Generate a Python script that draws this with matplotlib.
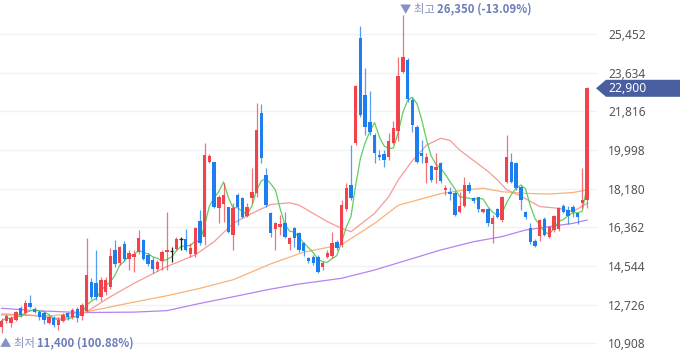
import matplotlib
matplotlib.use("Agg")
import matplotlib.pyplot as plt
from matplotlib.patches import Polygon
import numpy as np
import pandas as pd

# ---------------- data ----------------
opens = [11660, 11980, 11870, 12010, 12560, 12320, 12820, 12530, 12400, 12320,
         11850, 12090, 11770, 11980, 12320, 12135, 12510, 12200, 12450, 13800,
         13750, 13100, 13330, 13550, 15300, 14700, 15600, 14900, 14950, 15200,
         15780, 15050, 14850, 14400, 14800, 15200, 15250, 15350, 15830, 15830,
         15100, 15112, 16678, 15926, 19451, 19451, 17258, 17461, 17305, 16004,
         17884, 17727, 16897, 17728, 17963, 21754, 18824, 17022, 16270, 16364,
         16583, 15580, 16317, 16082, 15612, 14907, 14985, 14985, 14515, 14985,
         15016, 15690, 15533, 17250, 18353, 20312, 25248, 22584, 21331, 20704,
         19764, 19811, 19685, 20312, 20900, 23681, 24230, 22350, 21096, 19842,
         19400, 19248, 19060, 19404, 18120, 18041, 17994, 17101, 17367, 18354,
         17727, 17775, 17101, 17211, 16521, 17211, 16709, 18511, 19451, 19373,
         18244, 17100, 16317, 15737, 15957, 16740, 15894, 16239, 16270, 17367,
         17179, 17336, 17054, 17524, 17649]
highs = [12090, 12290, 12200, 12450, 12670, 12950, 13180, 12600, 12480, 12450,
         12240, 12200, 12130, 12350, 12400, 12560, 12600, 12790, 15880, 14000,
         15300, 14050, 14050, 15380, 15770, 15500, 15700, 15300, 15300, 16240,
         15830, 15150, 14950, 14830, 15300, 17080, 15420, 15900, 15930, 16290,
         15613, 16396, 17180, 20345, 19812, 19451, 17884, 18464, 17305, 17493,
         17963, 17806, 17492, 19138, 22225, 22162, 19138, 17100, 16630, 16943,
         17100, 15925, 16395, 16160, 15690, 14990, 15063, 15063, 14800, 15298,
         16160, 15768, 17650, 18433, 20234, 23054, 25828, 23838, 22788, 20813,
         19999, 19999, 20813, 21378, 24386, 26350, 24308, 22428, 21174, 20469,
         19874, 19295, 19843, 19451, 18354, 18276, 18088, 18041, 18746, 18511,
         17800, 17806, 17250, 17258, 16944, 17258, 17837, 20705, 19843, 19451,
         18307, 17150, 16583, 15800, 16740, 16865, 16427, 16944, 17336, 17461,
         17367, 17414, 17054, 19138, 22950]
lows = [11400, 11850, 11700, 11950, 12170, 12240, 12560, 12320, 12010, 11820,
        11810, 11700, 11540, 11930, 12010, 12040, 11930, 12010, 12400, 13000,
        12950, 12900, 13200, 13450, 14500, 14600, 14800, 14350, 14280, 15100,
        14850, 14550, 14200, 14300, 14360, 14360, 14750, 15300, 15300, 15250,
        14955, 14990, 15535, 15534, 19404, 17258, 16552, 16631, 16083, 15299,
        16474, 16787, 16866, 17492, 17806, 19404, 17336, 15925, 15298, 16004,
        15847, 15298, 15455, 15220, 15000, 14700, 14600, 14233, 14358, 14907,
        14907, 15298, 15455, 17148, 17650, 20234, 21566, 20704, 20704, 19403,
        19529, 19215, 19529, 20281, 20437, 23600, 22271, 20860, 19372, 19403,
        18432, 18512, 18433, 18464, 17885, 17649, 16897, 17022, 17305, 17994,
        17500, 17100, 17050, 16427, 15644, 16787, 16631, 18433, 18464, 18120,
        17179, 16780, 15580, 15424, 15737, 15957, 15847, 16160, 16207, 17022,
        16520, 16834, 16520, 17258, 17258]
closes = [11980, 12200, 12100, 12400, 12240, 12790, 12640, 12400, 12135, 12010,
          12135, 11770, 12010, 12250, 12135, 12480, 12090, 12715, 14125, 13100,
          13090, 13900, 13900, 15000, 14650, 15450, 14900, 15150, 15100, 15850,
          14900, 14650, 14400, 14750, 15200, 15280, 15250, 15800, 15830, 15300,
          15378, 16318, 15613, 19765, 19718, 17336, 17806, 17884, 16161, 17258,
          17336, 16865, 17304, 18041, 20940, 19608, 17414, 16082, 16552, 16520,
          15925, 15847, 15847, 15298, 15267, 14797, 14672, 14280, 14703, 15173,
          15643, 15377, 17414, 18230, 17727, 23007, 21644, 21096, 20861, 19842,
          19654, 19529, 20438, 21017, 23477, 24355, 22381, 21174, 19450, 19717,
          19650, 18590, 19216, 18558, 18229, 17931, 16944, 17367, 18354, 18088,
          17618, 17211, 17211, 16553, 16787, 16866, 17775, 19655, 18511, 18198,
          17649, 16834, 15690, 15486, 16709, 16004, 16396, 16897, 17258, 17101,
          16897, 17101, 16865, 17649, 22900]

# moving averages (index, value)
ma20_idx = [0, 6, 12, 16, 18, 23, 28, 35, 41, 45, 49, 53, 57, 61, 63, 66, 69, 72, 74,
            79, 82, 84, 87, 90, 93, 95, 97, 100, 103, 105, 107, 110, 114, 118, 121, 124]
ma20_val = [12250, 12230, 12090, 12200, 12400, 13100, 13730, 14520, 15070, 15690,
            16550, 17020, 17440, 17520, 17410, 17020, 16630, 16320, 16160, 17020,
            17800, 18590, 19500, 20230, 20550, 20450, 20000, 19500, 19000, 18600,
            18130, 17830, 17340, 17260, 17100, 17490]
ma60_idx = [0, 10, 17, 28, 35, 42, 49, 57, 64, 72, 79, 84, 93, 98, 102, 106, 111, 116, 121, 124]
ma60_val = [12300, 12200, 12350, 12850, 13150, 13500, 13900, 14650, 15200, 15550,
            16550, 17400, 17950, 18120, 18200, 18040, 17960, 17930, 18000, 18120]
ma120_idx = [0, 8, 17, 28, 35, 42, 49, 56, 63, 72, 79, 86, 93, 100, 106, 111, 116, 121, 124]
ma120_val = [12560, 12440, 12360, 12380, 12450, 12790, 13100, 13420, 13700, 13970,
             14360, 14830, 15300, 15690, 15930, 16240, 16400, 16550, 16710]

ytick_vals = [10908, 12726, 14544, 16362, 18180, 19998, 21816, 23634, 25452]
high_label = ["▼ 최고 ", "26,350 (-13.09%)"]
low_label = ["▲ 최저 ", "11,400 (100.88%)"]

# ---------------- style ----------------
W, H = 680, 358
RED = "#f0434b"
BLUE = "#1b7ff0"
FONT = ["Noto Sans CJK KR", "DejaVu Sans"]

fig = plt.figure(figsize=(W / 100, H / 100), dpi=100)
ax = fig.add_axes([0, 0, 597 / W, 1])
ax.set_facecolor("white")

n = len(closes)
x = np.arange(n)
o = np.array(opens); c = np.array(closes); hi = np.array(highs); lo = np.array(lows)

# gridlines
for v in ytick_vals:
    ax.axhline(v, color="#f1f2f6", lw=1.0, zorder=0)

# moving averages
ma5 = pd.Series(c).rolling(5, min_periods=1).mean()
ax.plot(ma120_idx, ma120_val, color="#b483f2", lw=0.9, zorder=2)
ax.plot(ma60_idx, ma60_val, color="#f9b277", lw=0.9, zorder=2)
ax.plot(ma20_idx, ma20_val, color="#f79a9a", lw=0.9, zorder=2)
ax.plot(x, ma5, color="#5fcf5f", lw=0.9, zorder=3)

# candles
up = c > o
dn = c < o
eq = c == o
ax.vlines(x[up], lo[up], hi[up], color=RED, lw=0.9, alpha=0.75, zorder=4)
ax.vlines(x[dn], lo[dn], hi[dn], color=BLUE, lw=0.9, alpha=0.75, zorder=4)
ax.vlines(x[eq], lo[eq], hi[eq], color="#222222", lw=0.9, zorder=4)
bw = 0.72
ax.bar(x[up], (c - o)[up], bottom=o[up], width=bw, color=RED, zorder=5, linewidth=0)
ax.bar(x[dn], (o - c)[dn], bottom=c[dn], width=bw, color=BLUE, zorder=5, linewidth=0)
ax.hlines(c[eq], x[eq] - bw / 2, x[eq] + bw / 2, color="#222222", lw=0.9, zorder=5)

ax.set_xlim(-0.36, 597 / 4.72 - 0.36)
ax.set_ylim(10224, 27050)
for s in ax.spines.values():
    s.set_visible(False)
ax.set_xticks([])
ax.yaxis.tick_right()
ax.set_yticks(ytick_vals)
ax.set_yticklabels([f"{v:,}" for v in ytick_vals])
ax.tick_params(axis="y", length=0, pad=8, labelsize=8.6, labelcolor="#555555")
for t in ax.get_yticklabels():
    t.set_fontfamily(["Noto Sans", "DejaVu Sans"])

# high / low annotations
ihi = int(np.argmax(hi))
ilo = int(np.argmin(lo))
ANN = "#6b7db9"
fig.canvas.draw()
tr = ax.transData
xh, _ = tr.transform((ihi, hi[ihi]))
t1 = ax.annotate(high_label[0], xy=(xh - 3, H - 9), xycoords="figure pixels",
                 fontsize=8.2, color="#8592c2", family=FONT, va="center", ha="left")
fig.canvas.draw()
bb = t1.get_window_extent()
ax.annotate(high_label[1], xy=(bb.x1, H - 9), xycoords="figure pixels",
            fontsize=8.2, color=ANN, family=FONT, va="center", ha="left", fontweight="bold")

xl, _ = tr.transform((ilo, lo[ilo]))
t2 = ax.annotate(low_label[0], xy=(max(xl - 3, 0), 15), xycoords="figure pixels",
                 fontsize=8.2, color="#8592c2", family=FONT, va="center", ha="left")
fig.canvas.draw()
bb2 = t2.get_window_extent()
ax.annotate(low_label[1], xy=(bb2.x1, 15), xycoords="figure pixels",
            fontsize=8.2, color=ANN, family=FONT, va="center", ha="left", fontweight="bold")

# last price tag
_, yl = tr.transform((n - 1, c[-1]))
tag = Polygon([(596, yl), (606, yl - 8.5), (W, yl - 8.5), (W, yl + 8.5), (606, yl + 8.5)],
              closed=True, transform=None, facecolor="#485e9e", edgecolor="none", zorder=10)
fig.patches.append(tag)
fig.text(608 / W, yl / H, f"{c[-1]:,}", color="white", fontsize=8.8,
         family=["Noto Sans", "DejaVu Sans"], va="center", ha="left", zorder=11)

fig.savefig("out.png", dpi=100, facecolor="white")
